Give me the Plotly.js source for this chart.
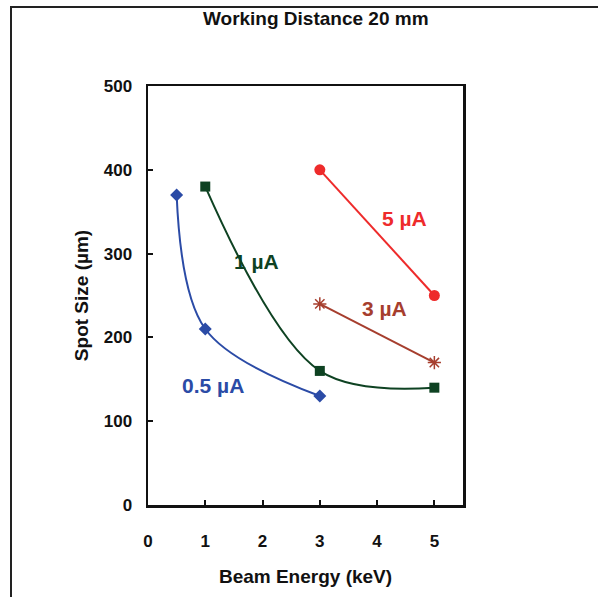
<!DOCTYPE html>
<html>
<head>
<meta charset="utf-8">
<script src="https://cdn.plot.ly/plotly-3.0.1.min.js"></script>
<style>
  html, body { margin: 0; padding: 0; background: #fff; }
  #wrap { position: relative; width: 598px; height: 597px; }
  #frame { position: absolute; left: 10px; top: 6px; width: 600px; height: 589px;
           border-left: 2px solid #222; border-top: 2px solid #222; border-bottom: 2px solid #aaa;
           pointer-events: none; z-index: 10; }
  #chart { position: absolute; left: 0; top: 0; width: 598px; height: 597px; }
</style>
</head>
<body>
<div id="wrap">
  <div id="chart"></div>
  <div id="frame"></div>
</div>
<script>
// Data
const energy05 = [0.5, 1, 3];
const spot05   = [370, 210, 130];
const energy1  = [1, 3, 5];
const spot1    = [380, 160, 140];
const energy3  = [3, 5];
const spot3    = [240, 170];
const energy5  = [3, 5];
const spot5    = [400, 250];

const seriesNames = ['0.5 µA', '1 µA', '3 µA', '5 µA'];
const xTickVals = [0, 1, 2, 3, 4, 5];
const yTickVals = [0, 100, 200, 300, 400, 500];

const labelX = [1.13, 1.89, 4.13, 4.48];
const labelY = [143, 291, 234, 342];

const colors = ['#2B4BA6', '#0E4222', '#A63E2E', '#EE2B2B'];

const font = 'Liberation Sans, Arial, sans-serif';

const traces = [
  {x: energy05, y: spot05, name: seriesNames[0], mode: 'lines+markers',
   line: {color: colors[0], width: 2, shape: 'spline', smoothing: 1.0},
   marker: {symbol: 'diamond', size: 10, color: colors[0]}},
  {x: energy1, y: spot1, name: seriesNames[1], mode: 'lines+markers',
   line: {color: colors[1], width: 2, shape: 'spline', smoothing: 1.0},
   marker: {symbol: 'square', size: 10, color: colors[1]}},
  {x: energy3, y: spot3, name: seriesNames[2], mode: 'lines+markers',
   line: {color: colors[2], width: 2},
   marker: {symbol: 'asterisk-open', size: 11, color: colors[2], line: {color: colors[2], width: 1.5}}},
  {x: energy5, y: spot5, name: seriesNames[3], mode: 'lines+markers',
   line: {color: colors[3], width: 2},
   marker: {symbol: 'circle', size: 11, color: colors[3]}}
];

const annotations = seriesNames.map((n, i) => ({
  x: labelX[i], y: labelY[i], xref: 'x', yref: 'y', text: n,
  showarrow: false, font: {family: font, size: 21, weight: 'bold', color: colors[i]}
}));

const layout = {
  width: 598, height: 597,
  margin: {l: 148, r: 135, t: 86, b: 92},
  paper_bgcolor: '#fff', plot_bgcolor: '#fff',
  showlegend: false,
  title: {text: 'Working Distance 20 mm', x: 0.528, xref: 'container', xanchor: 'center',
          y: 0.969, yref: 'container', yanchor: 'middle',
          font: {family: font, size: 19, weight: 'bold', color: '#111'}},
  xaxis: {range: [0, 5.5], tickvals: xTickVals, ticks: 'inside', ticklen: 5, tickwidth: 2, tickcolor: '#111',
          showline: true, linecolor: '#111', linewidth: 2.5, mirror: true, showgrid: false, zeroline: false,
          tickfont: {family: font, size: 17, weight: 'bold', color: '#111'}, ticklabelstandoff: 19,
          title: {text: 'Beam Energy (keV)', font: {family: font, size: 19, weight: 'bold', color: '#111'}, standoff: 20}},
  yaxis: {range: [0, 500], tickvals: yTickVals, ticks: 'inside', ticklen: 5, tickwidth: 2, tickcolor: '#111',
          showline: true, linecolor: '#111', linewidth: 2.5, mirror: true, showgrid: false, zeroline: false,
          tickfont: {family: font, size: 17, weight: 'bold', color: '#111'}, ticklabelstandoff: 10,
          title: {text: 'Spot Size (µm)', font: {family: font, size: 19, weight: 'bold', color: '#111'}, standoff: 10}},
  annotations: annotations
};

Plotly.newPlot('chart', traces, layout, {displayModeBar: false, staticPlot: true});
</script>
</body>
</html>
